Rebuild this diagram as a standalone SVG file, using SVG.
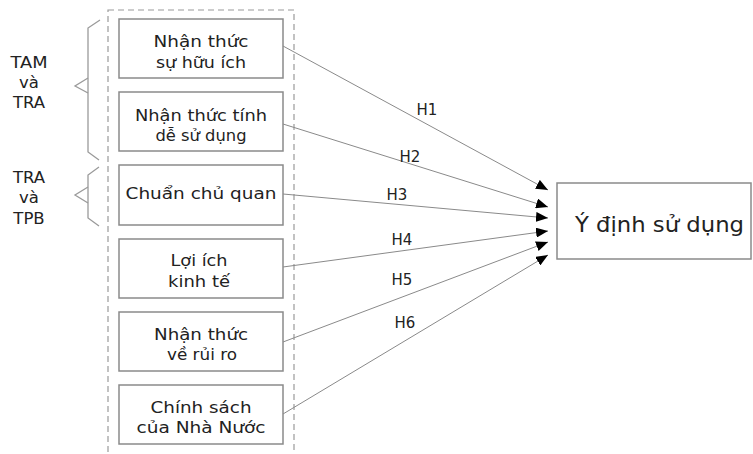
<svg xmlns="http://www.w3.org/2000/svg" width="753" height="454" viewBox="0 0 753 454">
<style>
text{font-family:"DejaVu Sans","Liberation Sans",sans-serif;fill:#222;text-anchor:middle}
.box{fill:#fff;stroke:#8a8a8a;stroke-width:1.5}
.t{font-size:16.5px}
.h{font-size:15px}
.conn{stroke:#8a8a8a;stroke-width:1;fill:none}
.br{stroke:#9a9a9a;stroke-width:1.3;fill:none}
</style>
<defs>
<marker id="arr" viewBox="0 0 12 10" refX="12" refY="5" markerWidth="12" markerHeight="10" markerUnits="userSpaceOnUse" orient="auto">
<path d="M0,0 L12,5 L0,10 Z" fill="#000"/>
</marker>
</defs>
<rect width="753" height="454" fill="#fff"/>
<g id="group-frame">
<rect x="108" y="10" width="186" height="455" fill="none" stroke="#9a9a9a" stroke-width="1.2" stroke-dasharray="6 4"/>
</g>
<g id="brace-tam">
<path class="br" d="M100,20 L88,28 L88,152 L99,160"/>
<path class="br" d="M88,78 L75,86 L88,93"/>
<text class="t" x="29" y="68" textLength="37" lengthAdjust="spacingAndGlyphs">TAM</text>
<text class="t" x="29" y="88">và</text>
<text class="t" x="29" y="108">TRA</text>
</g>
<g id="brace-tpb">
<path class="br" d="M99,167 L88,175 L88,218 L99,226"/>
<path class="br" d="M88,187 L75,195 L88,203"/>
<text class="t" x="29" y="183">TRA</text>
<text class="t" x="29" y="203">và</text>
<text class="t" x="29" y="224">TPB</text>
</g>
<g id="connectors">
<line class="conn" x1="283" y1="46" x2="548" y2="190" marker-end="url(#arr)"/>
<line class="conn" x1="283" y1="124" x2="548" y2="207" marker-end="url(#arr)"/>
<line class="conn" x1="283" y1="194" x2="548" y2="218" marker-end="url(#arr)"/>
<line class="conn" x1="283" y1="267" x2="548" y2="231" marker-end="url(#arr)"/>
<line class="conn" x1="283" y1="342" x2="548" y2="242" marker-end="url(#arr)"/>
<line class="conn" x1="283" y1="414" x2="548" y2="255" marker-end="url(#arr)"/>
<text class="h" x="427" y="115">H1</text>
<text class="h" x="410" y="162">H2</text>
<text class="h" x="397" y="200">H3</text>
<text class="h" x="402" y="245">H4</text>
<text class="h" x="402" y="285">H5</text>
<text class="h" x="405" y="328">H6</text>
</g>
<g id="node-1">
<rect class="box" x="119" y="19" width="164" height="59"/>
<text class="t" x="201" y="47" textLength="95" lengthAdjust="spacingAndGlyphs">Nhận thức</text>
<text class="t" x="201" y="68" textLength="90" lengthAdjust="spacingAndGlyphs">sự hữu ích</text>
</g>
<g id="node-2">
<rect class="box" x="119" y="92" width="164" height="59"/>
<text class="t" x="201" y="121" textLength="132" lengthAdjust="spacingAndGlyphs">Nhận thức tính</text>
<text class="t" x="201" y="141" textLength="91" lengthAdjust="spacingAndGlyphs">dễ sử dụng</text>
</g>
<g id="node-3">
<rect class="box" x="119" y="165" width="164" height="60"/>
<text class="t" x="201" y="199" textLength="151" lengthAdjust="spacingAndGlyphs">Chuẩn chủ quan</text>
</g>
<g id="node-4">
<rect class="box" x="119" y="239" width="164" height="59"/>
<text class="t" x="199" y="266" textLength="57" lengthAdjust="spacingAndGlyphs">Lợi ích</text>
<text class="t" x="199" y="287" textLength="62" lengthAdjust="spacingAndGlyphs">kinh tế</text>
</g>
<g id="node-5">
<rect class="box" x="119" y="312" width="164" height="59"/>
<text class="t" x="201" y="340" textLength="94" lengthAdjust="spacingAndGlyphs">Nhận thức</text>
<text class="t" x="202" y="360" textLength="70" lengthAdjust="spacingAndGlyphs">về rủi ro</text>
</g>
<g id="node-6">
<rect class="box" x="119" y="385" width="164" height="59"/>
<text class="t" x="201" y="413" textLength="101" lengthAdjust="spacingAndGlyphs">Chính sách</text>
<text class="t" x="201" y="433" textLength="129" lengthAdjust="spacingAndGlyphs">của Nhà Nước</text>
</g>
<g id="node-target">
<rect class="box" x="557" y="183" width="194" height="76"/>
<text x="659.5" y="232" font-size="20.5" textLength="169" lengthAdjust="spacingAndGlyphs">Ý định sử dụng</text>
</g>
</svg>
